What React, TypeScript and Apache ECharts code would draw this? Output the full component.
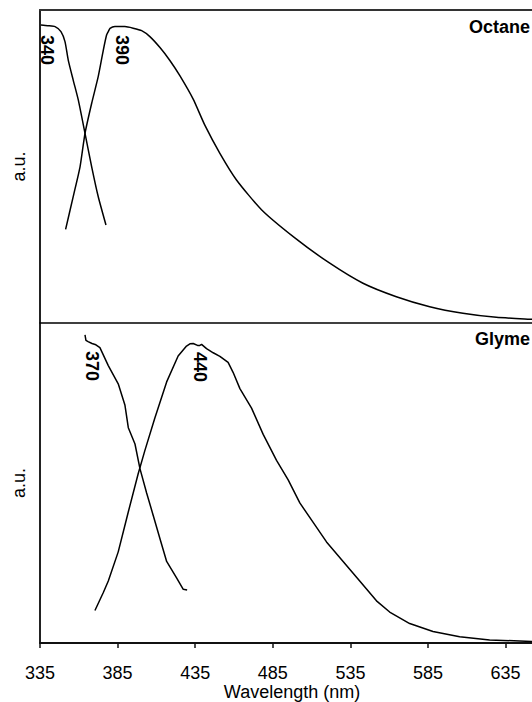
import React, { useEffect, useRef } from "react";
import * as echarts from "echarts";

// Wavelength ticks (nm)
const xTicks = [335, 385, 435, 485, 535, 585, 635];

// Octane: excitation (340) and emission (390) spectra, [nm, a.u.]
const octaneExcitation: [number, number][] = [
  [335.6, 0.952], [340.0, 0.950], [344.7, 0.947], [348.5, 0.931], [351.1, 0.899],
  [353.2, 0.840], [356.4, 0.776], [359.7, 0.712], [364.0, 0.606], [368.3, 0.499],
  [372.5, 0.404], [377.5, 0.313],
];
const octaneEmission: [number, number][] = [
  [351.5, 0.299], [356.4, 0.404], [360.8, 0.499], [364.0, 0.606], [368.3, 0.702],
  [372.5, 0.787], [375.8, 0.872], [377.9, 0.920], [379.0, 0.931], [380.1, 0.941],
  [383.3, 0.947], [389.7, 0.947], [395.0, 0.942], [400.5, 0.934], [405.8, 0.915],
  [412.3, 0.880], [418.8, 0.838], [425.1, 0.790], [433.7, 0.715], [441.2, 0.632],
  [450.9, 0.542], [461.6, 0.457], [477.7, 0.362], [499.2, 0.272], [521.7, 0.191],
  [543.1, 0.127], [564.6, 0.084], [586.1, 0.052], [607.5, 0.031], [629.0, 0.018],
  [650.5, 0.012], [660.0, 0.010],
];

// Glyme: excitation (370) and emission (440) spectra, [nm, a.u.]
const glymeExcitation: [number, number][] = [
  [364.0, 0.963], [364.6, 0.946], [366.0, 0.942], [368.5, 0.936], [371.0, 0.932],
  [373.6, 0.923], [379.0, 0.867], [385.4, 0.810], [389.7, 0.744], [391.9, 0.673],
  [396.2, 0.622], [399.4, 0.545], [403.7, 0.469], [408.0, 0.398], [412.3, 0.326],
  [416.6, 0.255], [423.0, 0.204], [427.3, 0.168], [429.8, 0.166],
];
const glymeEmission: [number, number][] = [
  [370.4, 0.102], [375.8, 0.158], [379.0, 0.194], [385.4, 0.285], [391.8, 0.408],
  [398.3, 0.530], [402.6, 0.602], [409.0, 0.703], [416.6, 0.816], [424.0, 0.897],
  [429.4, 0.928], [431.6, 0.935], [433.7, 0.936], [436.5, 0.930], [438.0, 0.930],
  [439.1, 0.933], [442.3, 0.920], [446.6, 0.907], [450.9, 0.896], [456.2, 0.877],
  [459.4, 0.846], [463.8, 0.795], [471.3, 0.734], [478.8, 0.652], [487.4, 0.571],
  [494.9, 0.510], [502.4, 0.438], [511.0, 0.377], [519.6, 0.316], [530.3, 0.255],
  [541.0, 0.194], [551.8, 0.132], [560.3, 0.097], [573.2, 0.061], [588.2, 0.036],
  [605.4, 0.020], [624.7, 0.010], [651.7, 0.005], [660.0, 0.004],
];

const panelNames = ["Octane", "Glyme"];
const peakLabels = ["340", "390", "370", "440"];

const FONT = "'Liberation Sans', Arial, Helvetica, sans-serif";

export default function App() {
  const ref = useRef<HTMLDivElement>(null);

  useEffect(() => {
    const chart = echarts.init(ref.current!, null, { renderer: "svg" });
    const xBase = {
      type: "value",
      min: 335,
      max: 652,
      splitLine: { show: false },
      axisTick: { show: false },
      axisLabel: { show: false },
    };
    const yBase = {
      type: "value",
      min: 0,
      max: 1,
      splitLine: { show: false },
      axisTick: { show: false },
      axisLabel: { show: false },
      axisLine: { show: true, onZero: false, lineStyle: { color: "#222", width: 2 } },
      name: "a.u.",
      nameLocation: "middle",
      nameGap: 12,
      nameTextStyle: { fontFamily: FONT, fontSize: 18, color: "#000" },
    };
    const lineStyle = { color: "#000", width: 1.5 };
    const mkSeries = (data: [number, number][], idx: number, smooth: number) => ({
      type: "line",
      data,
      xAxisIndex: idx === 0 ? 0 : 2,
      yAxisIndex: idx,
      showSymbol: false,
      symbol: "none",
      smooth,
      lineStyle,
      clip: true,
      silent: true,
    });
    const rotText = (text: string, x: number, y: number) => ({
      type: "text",
      x,
      y,
      rotation: -Math.PI / 2,
      style: {
        text,
        font: `bold 18px ${FONT}`,
        fill: "#000",
        align: "center",
        verticalAlign: "middle",
      },
    });

    chart.setOption({
      animation: false,
      backgroundColor: "#fff",
      grid: [
        { left: 40, right: 0, top: 10, height: 313 },
        { left: 40, right: 0, top: 323, height: 327 },
      ],
      xAxis: [
        {
          ...xBase,
          gridIndex: 0,
          position: "bottom",
          axisLine: { show: true, onZero: false, lineStyle: { color: "#000", width: 1.5 } },
        },
        {
          ...xBase,
          gridIndex: 0,
          position: "top",
          axisLine: { show: true, onZero: false, lineStyle: { color: "#333", width: 2 } },
        },
        {
          ...xBase,
          gridIndex: 1,
          position: "bottom",
          axisLine: { show: true, onZero: false, lineStyle: { color: "#111", width: 2 } },
          axisTick: {
            show: true,
            customValues: xTicks,
            length: 5,
            inside: false,
            lineStyle: { color: "#111", width: 1.5 },
          },
          axisLabel: {
            show: true,
            customValues: xTicks,
            margin: 21,
            fontFamily: FONT,
            fontSize: 18,
            color: "#000",
          },
          name: "Wavelength (nm)",
          nameLocation: "middle",
          nameGap: 39,
          nameTextStyle: {
            fontFamily: FONT,
            fontSize: 18,
            color: "#000",
            padding: [0, 0, 0, 12],
          },
        },
      ],
      yAxis: [
        { ...yBase, gridIndex: 0 },
        { ...yBase, gridIndex: 1 },
      ],
      series: [
        mkSeries(octaneExcitation, 0, 0.2),
        mkSeries(octaneEmission, 0, 0.2),
        mkSeries(glymeExcitation, 1, 0),
        mkSeries(glymeEmission, 1, 0),
      ],
      graphic: [
        {
          type: "text",
          x: 530,
          y: 27,
          style: {
            text: panelNames[0],
            font: `bold 18px ${FONT}`,
            fill: "#000",
            align: "right",
            verticalAlign: "middle",
          },
        },
        {
          type: "text",
          x: 530,
          y: 339,
          style: {
            text: panelNames[1],
            font: `bold 18px ${FONT}`,
            fill: "#000",
            align: "right",
            verticalAlign: "middle",
          },
        },
        rotText(peakLabels[0], 47, 50),
        rotText(peakLabels[1], 122, 50),
        rotText(peakLabels[2], 92, 366),
        rotText(peakLabels[3], 200, 367),
      ],
    });
    return () => chart.dispose();
  }, []);

  return (
    <div
      ref={ref}
      style={{ position: "fixed", left: 0, top: 0, width: 532, height: 702, background: "#fff" }}
    />
  );
}
